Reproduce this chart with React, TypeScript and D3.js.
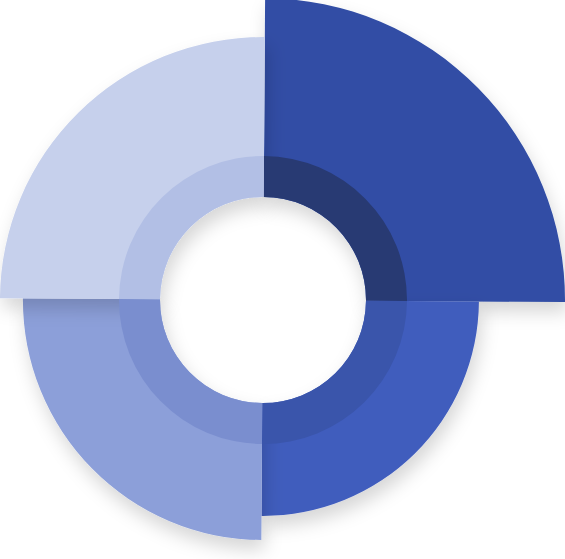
import React from "react";
import * as d3 from "d3";

const categories = ["A", "B", "C", "D"];
const values = [100, 71.5, 79.5, 87.1];
const colors = ["#304da5", "#405dbd", "#8c9fd9", "#c6d0ec"];
const innerColors = ["#283a73", "#3a55ab", "#7a8ecf", "#b2bfe5"];

const width = 565;
const height = 559;
const cx = 263;
const cy = 300;
const holeR = 103;
const ringR = 144;
const tilt = 0.007;

export default function App() {
  const r = d3.scaleLinear().domain([0, 100]).range([0, 302]);
  const pie = d3.pie<number>().sort(null).value(() => 1).startAngle(tilt).endAngle(Math.PI * 2 + tilt);
  const arcs = pie(values);
  const outer = d3.arc<d3.PieArcDatum<number>>().innerRadius(holeR).outerRadius((d) => r(d.data));
  const inner = d3.arc<d3.PieArcDatum<number>>().innerRadius(holeR).outerRadius(ringR);

  return (
    <svg width={width} height={height} style={{ position: "absolute", left: 0, top: 0 }}>
      <defs>
        <filter id="sh" x="-30%" y="-30%" width="160%" height="160%">
          <feDropShadow dx="3" dy="10" stdDeviation="9" floodColor="#000" floodOpacity="0.16" />
        </filter>
      </defs>
      <g transform={`translate(${cx},${cy})`}>
        {arcs.map((a, i) => (
          <path key={categories[i]} d={outer(a) || ""} fill={colors[i]} filter="url(#sh)" />
        ))}
        {/* inner darker ring, drawn flat on top */}
        {arcs.map((a, i) => (
          <path key={"in" + categories[i]} d={inner(a) || ""} fill={innerColors[i]} />
        ))}
      </g>
    </svg>
  );
}
